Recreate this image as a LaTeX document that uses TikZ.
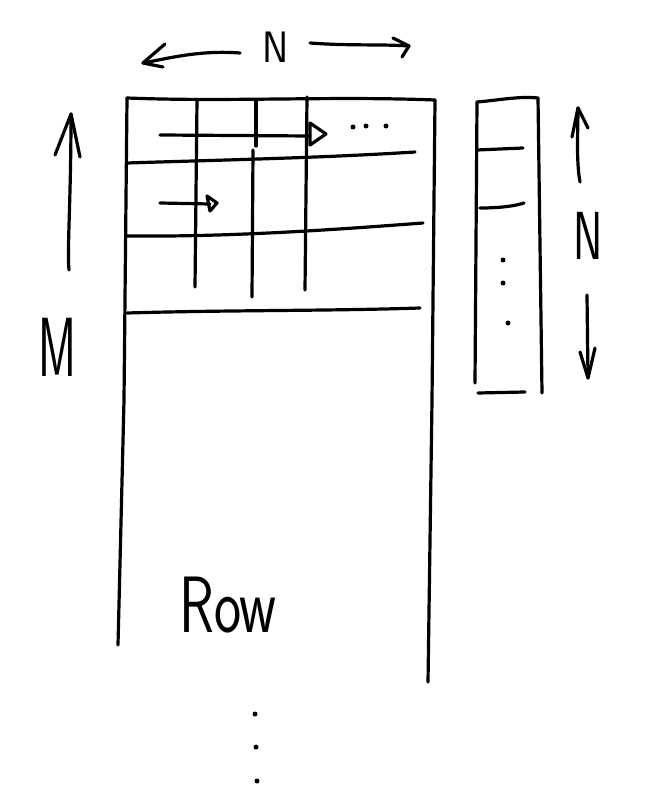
\documentclass[tikz,border=0pt]{standalone}
\begin{document}
\begin{tikzpicture}[x=1pt,y=-1pt,
  pen/.style={line width=3.2pt,line cap=round,line join=round},
  hand/.style={font=\sffamily, inner sep=0pt},
  dotmark/.style={circle,fill=black,inner sep=0pt,minimum size=5pt}]
\useasboundingbox (0,0) rectangle (658,786);
% top N arrow
\node[hand,font=\sffamily\fontsize{44}{44}\selectfont,xscale=0.9] (ntop) at (276,47) {N};
\coordinate (la1) at (240,53); \coordinate (la0) at (143,63);
\draw[pen] (la1) .. controls (200,50) and (170,58) .. (la0);
\draw[pen] (165,44) -- (la0) -- (163,67);
\coordinate (ra0) at (310,43); \coordinate (ra1) at (409,46);
\draw[pen] (ra0) .. controls (350,46) and (380,44) .. (ra1);
\draw[pen] (393,38) -- (ra1) -- (402,57);
% main matrix
\draw[pen] (127,98) .. controls (230,102) and (330,96) .. (435,100);
\draw[pen] (127,98) -- (124,400) -- (118,645);
\draw[pen] (435,100) -- (432,400) -- (428,682);
\draw[pen] (127,163) .. controls (220,160) and (320,158) .. (415,152);
\draw[pen] (127,236) .. controls (230,237) and (330,230) .. (423,223);
\draw[pen] (127,313) .. controls (230,310) and (330,311) .. (420,308);
\draw[pen] (197,100) -- (195,287);
\draw[pen] (256,101) -- (256,146);
\draw[pen] (253,150) -- (252,297);
\draw[pen] (307,97) -- (305,290);
% inner arrows
\coordinate (a1s) at (160,135); \coordinate (a1e) at (310,136);
\draw[pen] (a1s) -- (a1e);
\draw[pen] (310,123) -- (326,134) -- (310,145) -- cycle;
\node[dotmark] (d1) at (353,127) {};
\node[dotmark] (d2) at (366,126) {};
\node[dotmark] (d3) at (386,126) {};
\coordinate (a2s) at (160,203); \coordinate (a2e) at (210,204);
\draw[pen] (a2s) -- (a2e);
\draw[pen] (207,196) -- (217,203) -- (210,211) -- cycle;
% left M arrow
\coordinate (ma0) at (69,270); \coordinate (ma1) at (71,114);
\draw[pen] (ma0) .. controls (67,250) and (71,200) .. (ma1);
\draw[pen] (55,155) -- (ma1) -- (80,157);
\node[hand,font=\sffamily\fontsize{84}{84}\selectfont,xscale=0.55] (mlab) at (57,347) {M};
% vector
\draw[pen] (477,102) .. controls (500,100) and (520,96) .. (538,98);
\draw[pen] (477,102) -- (475,383);
\draw[pen] (538,98) -- (542,393);
\draw[pen] (478,393) -- (525,392);
\draw[pen] (477,150) -- (523,148);
\draw[pen] (480,208) .. controls (500,208) and (515,206) .. (524,203);
\node[dotmark] (v1) at (503,260) {};
\node[dotmark] (v2) at (503,283) {};
\node[dotmark] (v3) at (508,323) {};
% right N arrows
\coordinate (ua0) at (580,182); \coordinate (ua1) at (578,108);
\draw[pen] (ua0) .. controls (576,160) and (578,130) .. (ua1);
\draw[pen] (572,137) -- (ua1) -- (588,128);
\node[hand,font=\sffamily\fontsize{68}{68}\selectfont,xscale=0.65] (nright) at (588,236) {N};
\coordinate (da0) at (587,295); \coordinate (da1) at (588,378);
\draw[pen] (da0) -- (da1);
\draw[pen] (580,352) -- (da1) -- (595,348);
% label
\node[hand,font=\sffamily\fontsize{80}{80}\selectfont,xscale=0.72] (row) at (228,605) {Row};
\node[dotmark] (b1) at (255,714) {};
\node[dotmark] (b2) at (256,747) {};
\node[dotmark] (b3) at (257,781) {};
\end{tikzpicture}
\end{document}
